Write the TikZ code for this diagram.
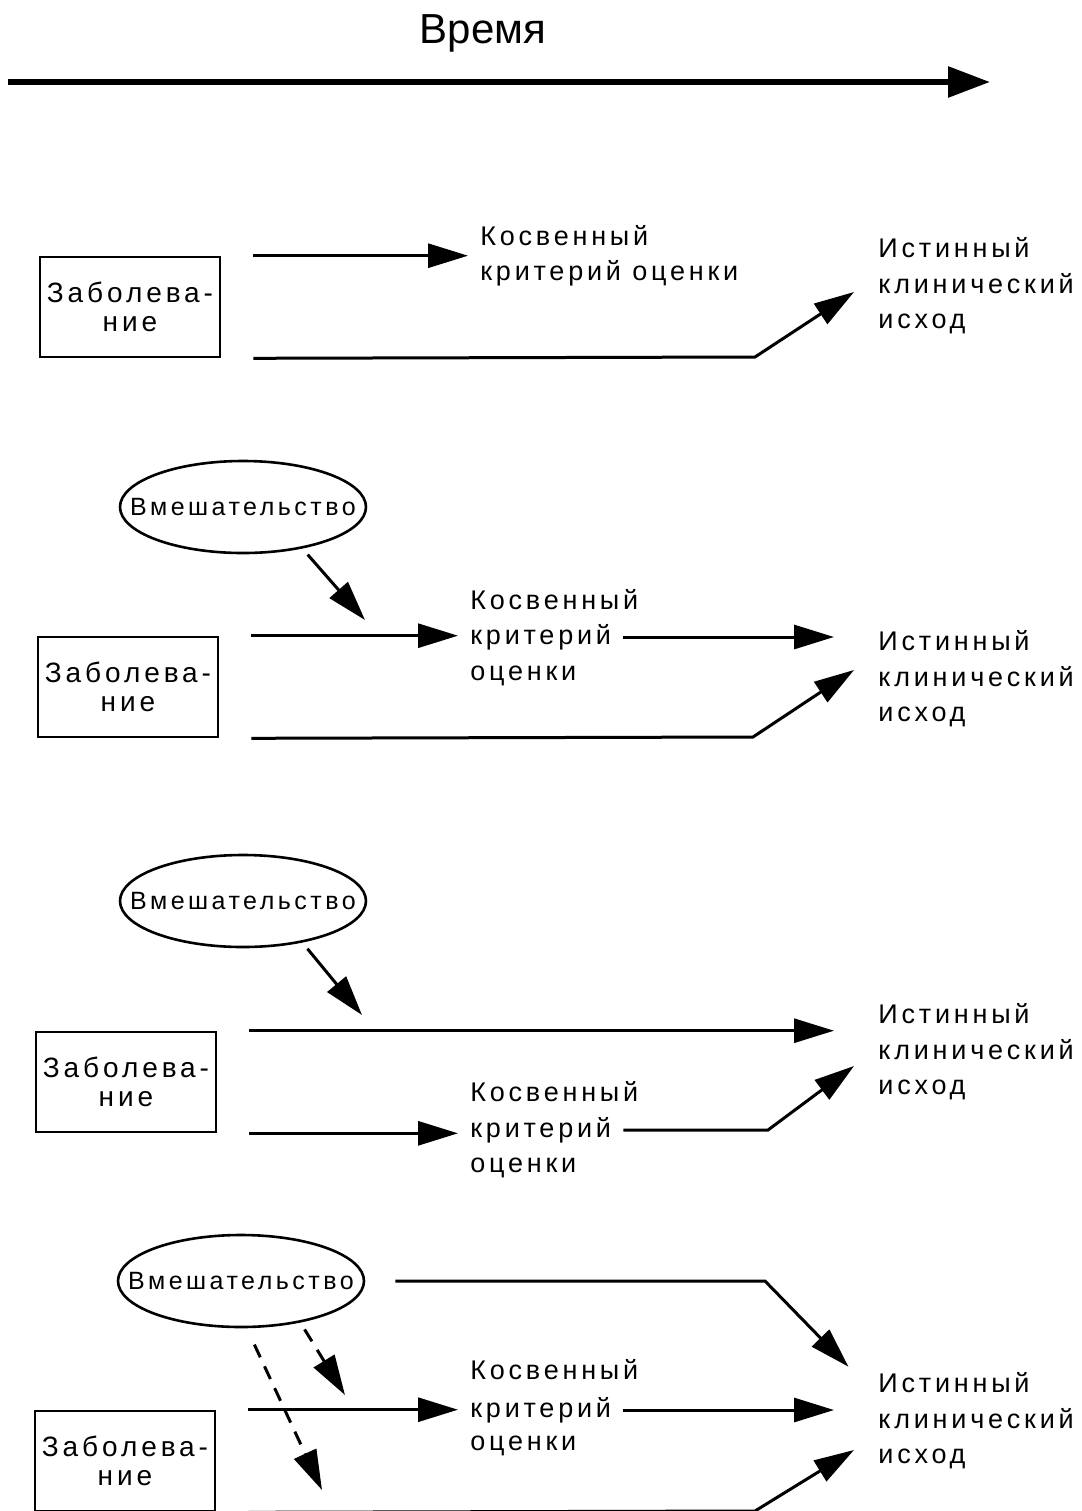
\documentclass[tikz,border=0pt]{standalone}
\usepackage{fontspec}
\setmainfont{Liberation Sans}
\newfontfamily\sdfont[LetterSpace=14]{Liberation Sans}
\usetikzlibrary{positioning,arrows.meta,shapes.geometric}

\tikzset{
  sd-flow/.style={-{Triangle[length=20pt,width=12pt]}, line width=1.5pt},
  sd-dash/.style={sd-flow, dash pattern=on 7pt off 5pt},
  sd-time/.style={-{Triangle[length=21pt,width=15pt]}, line width=3pt},
  sd-box/.style={draw, line width=1.3pt, minimum width=90pt,
    minimum height=50pt, align=center, inner sep=0pt,
    font=\fontsize{14}{14.5}\sdfont},
  sd-oval/.style={ellipse, draw, line width=1.3pt, minimum width=123pt,
    minimum height=46pt, inner xsep=-13pt, inner ysep=0pt,
    font=\fontsize{12.5}{14}\sdfont},
  sd-text/.style={anchor=west, align=left, inner xsep=6pt, inner ysep=0pt,
    font=\fontsize{13.5}{17.75}\sdfont},
  sd-word/.style={sd-text, text height=10pt, text depth=3pt},
  sd-out/.style={sd-text, inner xsep=12pt},
  sd-title/.style={font=\fontsize{21}{25}\selectfont}
}

\begin{document}
\begin{tikzpicture}[x=0.5pt, y=-0.5pt]
\useasboundingbox (0,0) rectangle (1082,1511);

% time axis
\node[sd-title] (time) at (483,33) {Время};
\coordinate (t0) at (8,82);
\coordinate (t1) at (990,82);
\draw[sd-time] (t0) -- (t1);

% panel 1
\node[sd-box] (dis1) at (130,307) {Заболева-\\ние};
\node[sd-text] (sur1) at (468,256) {Косвенный\\критерий оценки};
\node[sd-out] (out1) at (854,286) {Истинный\\клинический\\исход};
\coordinate (bend1) at (755,357);
\draw[sd-flow] ([xshift=16pt]dis1.north east) -- (sur1.west |- dis1.north);
\draw[sd-flow] ([xshift=16pt]dis1.south east) -- (bend1) -- ([yshift=-3pt]out1.west);

% panel 2
\node[sd-oval] (int2) at (243,507) {Вмешательство};
\node[sd-box] (dis2) at (128,687) {Заболева-\\ние};
\node[sd-word] (crit2) at (458,637) {критерий};
\node[sd-word] (kos2) at (458,602) {Косвенный};
\node[sd-word] (otc2) at (458,673) {оценки};
\node[sd-out] (out2) at (854,679) {Истинный\\клинический\\исход};
\coordinate (hit2) at (365,620);
\coordinate (bend2) at (753,737);
\draw[sd-flow, shorten <=4pt] (int2.-35) -- (hit2);
\draw[sd-flow] ([xshift=16pt]dis2.north east) -- (crit2.west |- dis2.north);
\draw[sd-flow, shorten >=10pt] (crit2.east) -- (crit2.east -| out2.west);
\draw[sd-flow] ([xshift=16pt]dis2.south east) -- (bend2) -- ([yshift=4.5pt]out2.west);

% panel 3
\node[sd-oval] (int3) at (243,901) {Вмешательство};
\node[sd-box] (dis3) at (126,1082) {Заболева-\\ние};
\node[sd-word] (crit3) at (458,1130) {критерий};
\node[sd-word] (kos3) at (458,1094) {Косвенный};
\node[sd-word] (otc3) at (458,1165) {оценки};
\node[sd-out] (out3) at (854,1052) {Истинный\\клинический\\исход};
\coordinate (hit3) at (362,1015);
\coordinate (bend3) at (768,1130);
\draw[sd-flow, shorten <=4pt] (int3.-35) -- (hit3);
\draw[sd-flow, shorten >=10pt] ([xshift=16pt]dis3.north east) -- (dis3.north -| out3.west);
\draw[sd-flow] ([xshift=16pt]dis3.south east) -- (crit3.west |- dis3.south);
\draw[sd-flow] (crit3.east) -- (bend3) -- ([yshift=-7pt]out3.west);

% panel 4
\node[sd-oval] (int4) at (241,1281) {Вмешательство};
\node[sd-box] (dis4) at (125,1461) {Заболева-\\ние};
\node[sd-word] (crit4) at (458,1410) {критерий};
\node[sd-word] (kos4) at (458,1372) {Косвенный};
\node[sd-word] (otc4) at (458,1443) {оценки};
\node[sd-out] (out4) at (854,1421) {Истинный\\клинический\\исход};
\coordinate (bend4) at (765,1281);
\coordinate (hit4a) at (345,1395);
\coordinate (hit4b) at (322,1490);
\coordinate (bend5) at (755,1511);
\draw[sd-flow, shorten >=4pt] ([xshift=15pt]int4.east) -- (bend4) -- (out4.north west);
\draw[sd-dash, shorten <=4pt] (int4.-35) -- (hit4a);
\draw[sd-dash, shorten <=9pt] (int4.-83) -- (hit4b);
\draw[sd-flow] ([xshift=16pt]dis4.north east) -- (crit4.west |- dis4.north);
\draw[sd-flow, shorten >=10pt] (crit4.east) -- (crit4.east -| out4.west);
\draw[sd-flow] ([xshift=16pt]dis4.south east) -- (bend5) -- ([yshift=-14.5pt]out4.west);
\end{tikzpicture}
\end{document}
